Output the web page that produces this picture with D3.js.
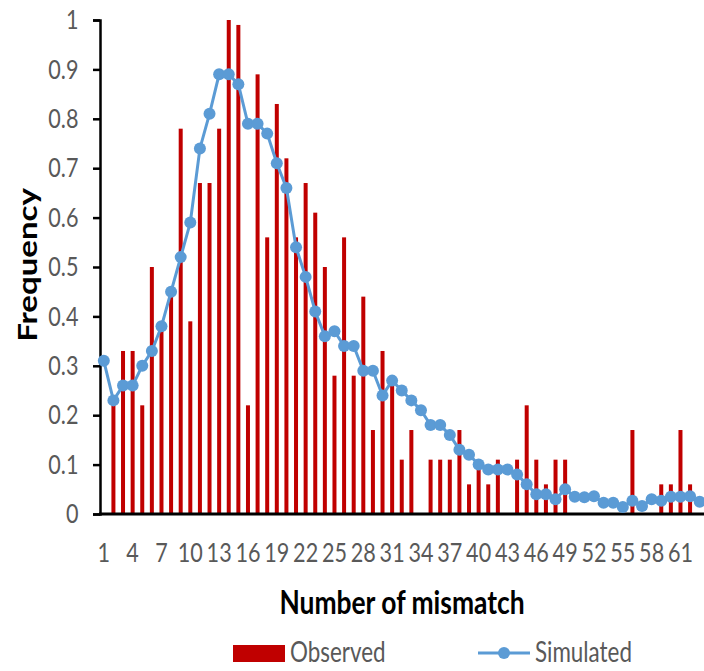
<!DOCTYPE html>
<html>
<head>
<meta charset="utf-8">
<script src="https://cdn.jsdelivr.net/npm/d3@7"></script>
<style>
  body { margin: 0; background: #fff; }
  svg { display: block; }
</style>
</head>
<body>
<script>
// categories 1..63 (number of mismatches)
var categories = d3.range(1, 64);

var observed = [0, 0.22, 0.33, 0.33, 0.22, 0.5, 0.39, 0.44, 0.78, 0.39,
  0.67, 0.67, 0.78, 1.0, 0.99, 0.22, 0.89, 0.56, 0.83, 0.72,
  0.56, 0.67, 0.61, 0.5, 0.28, 0.56, 0.28, 0.44, 0.17, 0.33,
  0.26, 0.11, 0.17, 0, 0.11, 0.11, 0.11, 0.17, 0.06, 0.11,
  0.06, 0.11, 0, 0.11, 0.22, 0.11, 0.06, 0.11, 0.11, 0,
  0, 0, 0, 0, 0, 0.17, 0, 0, 0.06, 0.06,
  0.17, 0.06, 0];

var simulated = [0.31, 0.23, 0.26, 0.26, 0.30, 0.33, 0.38, 0.45, 0.52, 0.59,
  0.74, 0.81, 0.89, 0.89, 0.87, 0.79, 0.79, 0.77, 0.71, 0.66,
  0.54, 0.48, 0.41, 0.36, 0.37, 0.34, 0.34, 0.29, 0.29, 0.24,
  0.27, 0.25, 0.23, 0.21, 0.18, 0.18, 0.16, 0.13, 0.12, 0.10,
  0.09, 0.09, 0.09, 0.08, 0.06, 0.04, 0.04, 0.03, 0.05, 0.035,
  0.034, 0.036, 0.023, 0.023, 0.014, 0.027, 0.016, 0.03, 0.027, 0.035,
  0.035, 0.036, 0.025];

var yTicks = [0, 0.1, 0.2, 0.3, 0.4, 0.5, 0.6, 0.7, 0.8, 0.9, 1];
var xTickLabels = [1, 4, 7, 10, 13, 16, 19, 22, 25, 28, 31, 34, 37, 40, 43, 46, 49, 52, 55, 58, 61];

var seriesNames = ["Observed", "Simulated"];

var w = 704, h = 671;
var barColour = "#c00000";
var lineColour = "#5b9bd5";
var textColour = "#595959";
var font = "Lato, 'Open Sans', sans-serif";
var squash = 0.8; // text looks horizontally compressed

var svg = d3.select("body")
  .append("svg")
  .attr("width", w)
  .attr("height", h);

var xScale = d3.scaleBand()
  .domain(categories)
  .range([99, 704.5]);

var yScale = d3.scaleLinear()
  .domain([0, 1])
  .range([514, 20]);

var rows = categories.map(function(c, i) {
  return { cat: c, obs: observed[i], sim: simulated[i] };
});

// bars
svg.append("g")
  .selectAll("rect")
  .data(rows.filter(function(d) { return d.obs > 0; }))
  .enter()
  .append("rect")
  .attr("x", function(d) { return xScale(d.cat) + xScale.bandwidth() / 2 - 2; })
  .attr("y", function(d) { return yScale(d.obs); })
  .attr("width", 4)
  .attr("height", function(d) { return yScale(0) - yScale(d.obs); })
  .style("fill", barColour);

// y axis
var yAxis = d3.axisLeft(yScale)
  .tickValues(yTicks)
  .tickSize(7)
  .tickPadding(20)
  .tickFormat(d3.format("~g"));

var gy = svg.append("g")
  .attr("transform", "translate(100,0)")
  .call(yAxis);
gy.select(".domain").attr("stroke", "#000").attr("stroke-width", 2.5);
gy.selectAll(".tick line").attr("stroke", "#000").attr("stroke-width", 2.5);
gy.selectAll(".tick text")
  .attr("fill", textColour)
  .style("font-family", font)
  .style("font-size", "27px")
  .attr("transform", "scale(" + squash + ",1)");

// x axis
var xAxis = d3.axisBottom(xScale)
  .tickValues(xTickLabels)
  .tickSize(0)
  .tickPadding(29);

var gx = svg.append("g")
  .attr("transform", "translate(0,514)")
  .call(xAxis);
gx.select(".domain").remove();
gx.selectAll(".tick text")
  .attr("fill", textColour)
  .style("font-family", font)
  .style("font-size", "27px")
  .attr("transform", "scale(" + squash + ",1)");

svg.append("line")
  .attr("x1", 99).attr("x2", 704)
  .attr("y1", 514).attr("y2", 514)
  .attr("stroke", "#000")
  .attr("stroke-width", 3);

// simulated line + markers
var line = d3.line()
  .x(function(d) { return xScale(d.cat) + xScale.bandwidth() / 2; })
  .y(function(d) { return yScale(d.sim); });

svg.append("path")
  .datum(rows)
  .attr("d", line)
  .attr("fill", "none")
  .attr("stroke", lineColour)
  .attr("stroke-width", 3);

svg.append("g")
  .selectAll("circle")
  .data(rows)
  .enter()
  .append("circle")
  .attr("cx", function(d) { return xScale(d.cat) + xScale.bandwidth() / 2; })
  .attr("cy", function(d) { return yScale(d.sim); })
  .attr("r", 6)
  .style("fill", lineColour);

// axis titles
svg.append("text")
  .attr("transform", "translate(402,614) scale(" + squash + ",1)")
  .attr("text-anchor", "middle")
  .style("font-family", font)
  .style("font-weight", "bold")
  .style("font-size", "33px")
  .attr("fill", "#000")
  .text("Number of mismatch");

svg.append("text")
  .attr("transform", "translate(37,265) scale(" + squash + ",1) rotate(-90)")
  .attr("text-anchor", "middle")
  .style("font-family", font)
  .style("font-weight", "bold")
  .style("font-size", "33px")
  .attr("fill", "#000")
  .text("Frequency");

// legend
var legend = svg.append("g");
legend.append("rect")
  .attr("x", 233).attr("y", 645)
  .attr("width", 52).attr("height", 17)
  .style("fill", barColour);
legend.append("text")
  .attr("transform", "translate(290,662) scale(" + squash + ",1)")
  .style("font-family", font)
  .style("font-size", "28px")
  .attr("fill", textColour)
  .text(seriesNames[0]);

legend.append("line")
  .attr("x1", 478).attr("x2", 530)
  .attr("y1", 653).attr("y2", 653)
  .attr("stroke", lineColour)
  .attr("stroke-width", 3);
legend.append("circle")
  .attr("cx", 504).attr("cy", 653).attr("r", 6)
  .style("fill", lineColour);
legend.append("text")
  .attr("transform", "translate(535,662) scale(" + squash + ",1)")
  .style("font-family", font)
  .style("font-size", "28px")
  .attr("fill", textColour)
  .text(seriesNames[1]);
</script>
</body>
</html>
